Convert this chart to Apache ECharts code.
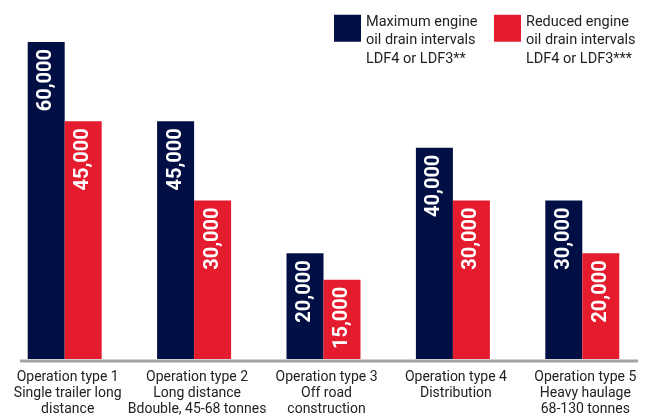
<!DOCTYPE html>
<html>
<head>
<meta charset="utf-8">
<script src="https://cdn.jsdelivr.net/npm/echarts@6/dist/echarts.min.js"></script>
<style>
  html, body { margin: 0; padding: 0; background: #fff; }
  #chart { width: 647px; height: 417px; }
</style>
</head>
<body>
<div id="chart"></div>
<script>
// categories and values
const categories = [
  'Operation type 1\nSingle trailer long\ndistance',
  'Operation type 2\nLong distance\nBdouble, 45-68 tonnes',
  'Operation type 3\nOff road\nconstruction',
  'Operation type 4\nDistribution',
  'Operation type 5\nHeavy haulage\n68-130 tonnes'
];
const maxName = 'Maximum engine\noil drain intervals\nLDF4 or LDF3**';
const reducedName = 'Reduced engine\noil drain intervals\nLDF4 or LDF3***';
const maxIntervals = [60000, 45000, 20000, 40000, 30000];
const reducedIntervals = [45000, 30000, 15000, 30000, 20000];

const NAVY = '#020f45';
const RED = '#e51c2e';
const FONT = 'Roboto, "Noto Sans", sans-serif';

const chart = echarts.init(document.getElementById('chart'), null, { renderer: 'canvas' });

const barLabel = {
  show: true,
  position: 'insideTop',
  rotate: 90,
  align: 'right',
  verticalAlign: 'middle',
  distance: 7,
  color: '#fff',
  fontSize: 20,
  fontWeight: 'bold',
  fontFamily: FONT,
  formatter: p => p.value.toLocaleString('en-US')
};

// legend text sits below the square's centre: push it down with an empty first line
const legendBase = {
  top: -4.5,
  padding: 0,
  icon: 'rect',
  itemWidth: 27,
  itemHeight: 27,
  selectedMode: false,
  formatter: name => '{s| }\n' + name.split('\n').map(l => '{t|' + l + '}').join('\n'),
  textStyle: {
    color: '#222',
    fontSize: 14.5,
    fontFamily: FONT,
    rich: {
      s: { lineHeight: 24.5, fontSize: 10 },
      t: { lineHeight: 18.5, fontSize: 14.5, color: '#222', fontFamily: FONT }
    }
  }
};

chart.setOption({
  animation: false,
  legend: [
    Object.assign({ left: 334, data: [maxName] }, legendBase),
    Object.assign({ left: 494, data: [reducedName] }, legendBase)
  ],
  grid: { left: -1, width: 652, top: 42, bottom: 57.5 },
  xAxis: {
    type: 'category',
    data: categories,
    axisLine: { show: false },
    axisTick: { show: false },
    axisLabel: {
      interval: 0,
      margin: 10,
      color: '#222',
      fontSize: 14,
      lineHeight: 16,
      fontFamily: FONT,
      padding: [0, 0, 0, 6]
    }
  },
  yAxis: {
    type: 'value',
    min: 0,
    max: 60000,
    show: false
  },
  graphic: [{
    type: 'line',
    shape: { x1: 20, y1: 361, x2: 638, y2: 361 },
    style: { stroke: '#a3a3a3', lineWidth: 3 },
    z: 10
  }],
  series: [
    {
      name: maxName,
      type: 'bar',
      data: maxIntervals,
      barWidth: 37,
      barGap: '0%',
      itemStyle: { color: NAVY },
      label: barLabel
    },
    {
      name: reducedName,
      type: 'bar',
      data: reducedIntervals,
      barWidth: 37,
      itemStyle: { color: RED },
      label: barLabel
    }
  ]
});
</script>
</body>
</html>
